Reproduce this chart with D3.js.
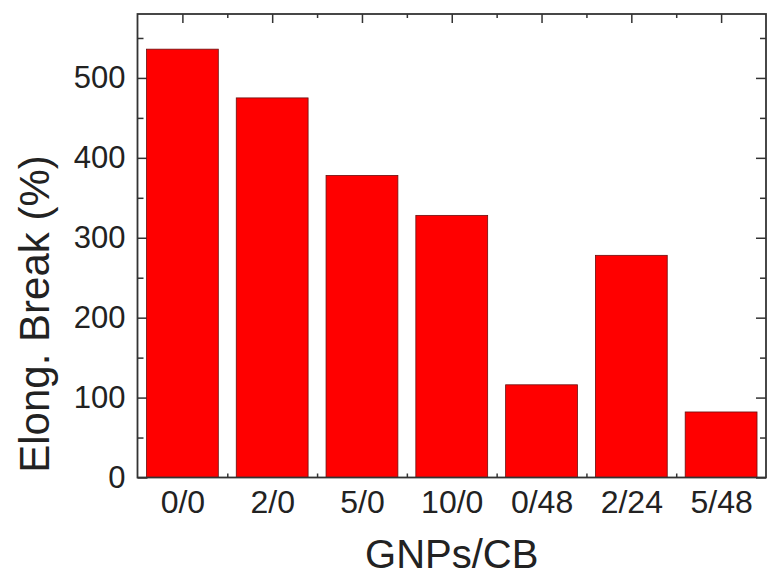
<!DOCTYPE html>
<html>
<head>
<meta charset="utf-8">
<script src="https://cdn.jsdelivr.net/npm/d3@7"></script>
<style>
  body { margin: 0; background: #fff; }
  text { font-family: "Liberation Sans", Arial, sans-serif; fill: #222; }
</style>
</head>
<body>
<div id="chart"></div>
<script>
// data
var categories = ["0/0", "2/0", "5/0", "10/0", "0/48", "2/24", "5/48"];
var elongation = [536, 475, 378, 328, 116, 278, 82];
var yTicks = [0, 100, 200, 300, 400, 500];
var yMinorTicks = [50, 150, 250, 350, 450, 550];

var svgWidth = 768;
var svgHeight = 582;
var margin = {top: 14, right: 2, bottom: 104.5, left: 137.5};
var width = svgWidth - margin.left - margin.right;
var height = svgHeight - margin.top - margin.bottom;

var svg = d3.select("#chart")
    .append("svg")
    .attr("width", svgWidth)
    .attr("height", svgHeight)
    .append("g")
    .attr("transform", "translate(" + margin.left + "," + margin.top + ")");

// categories sit at 1..7 on a linear scale, like the origin plot
var x = d3.scaleLinear().domain([0.5, categories.length + 0.5]).range([0, width]);
var y = d3.scaleLinear().domain([0, 580]).range([height, 0]);

var catPos = categories.map(function(d, i) { return i + 1; });
var catMinor = catPos.slice(0, -1).map(function(d) { return d + 0.5; });

function styleAxis(g) {
    g.select(".domain").remove();
    g.selectAll("line").attr("stroke", "#333").attr("stroke-width", 1.5);
}

// bottom axis (ticks inward)
svg.append("g")
    .attr("transform", "translate(0," + height + ")")
    .call(d3.axisBottom(x).tickValues(catPos).tickSize(-9).tickPadding(13)
        .tickFormat(function(d) { return categories[d - 1]; }))
    .call(styleAxis)
    .selectAll("text").attr("font-size", "32px").attr("fill", "#222");

svg.append("g")
    .attr("transform", "translate(0," + height + ")")
    .call(d3.axisBottom(x).tickValues(catMinor).tickSize(-4).tickFormat(""))
    .call(styleAxis);

// top axis
svg.append("g")
    .call(d3.axisTop(x).tickValues(catPos).tickSize(-9).tickFormat(""))
    .call(styleAxis);
svg.append("g")
    .call(d3.axisTop(x).tickValues(catMinor).tickSize(-4).tickFormat(""))
    .call(styleAxis);

// left axis
svg.append("g")
    .call(d3.axisLeft(y).tickValues(yTicks).tickSize(-10).tickPadding(12))
    .call(styleAxis)
    .selectAll("text").attr("font-size", "31px").attr("fill", "#222");
svg.append("g")
    .call(d3.axisLeft(y).tickValues(yMinorTicks).tickSize(-6).tickFormat(""))
    .call(styleAxis);

// right axis
svg.append("g")
    .attr("transform", "translate(" + width + ",0)")
    .call(d3.axisRight(y).tickValues(yTicks).tickSize(-10).tickFormat(""))
    .call(styleAxis);
svg.append("g")
    .attr("transform", "translate(" + width + ",0)")
    .call(d3.axisRight(y).tickValues(yMinorTicks).tickSize(-6).tickFormat(""))
    .call(styleAxis);

// bars
var barW = x(1.8) - x(1);
svg.selectAll(".bar")
    .data(elongation)
    .enter()
    .append("rect")
    .attr("class", "bar")
    .attr("x", function(d, i) { return x(i + 1) - barW / 2; })
    .attr("y", function(d) { return y(d); })
    .attr("width", barW)
    .attr("height", function(d) { return height - y(d); })
    .attr("fill", "#ff0000")
    .attr("stroke", "#6a1010")
    .attr("stroke-width", 0.8);

// frame
svg.append("rect")
    .attr("x", 0)
    .attr("y", 0)
    .attr("width", width)
    .attr("height", height)
    .attr("fill", "none")
    .attr("stroke", "#333")
    .attr("stroke-width", 1.8);

// axis titles
svg.append("text")
    .attr("transform", "rotate(-90)")
    .attr("x", 0 - 300)
    .attr("y", 0 - margin.left + 49)
    .attr("text-anchor", "middle")
    .attr("font-size", "42px")
    .text("Elong. Break (%)");

svg.append("text")
    .attr("x", x(4))
    .attr("y", height + 90)
    .attr("text-anchor", "middle")
    .attr("font-size", "40px")
    .text("GNPs/CB");
</script>
</body>
</html>
